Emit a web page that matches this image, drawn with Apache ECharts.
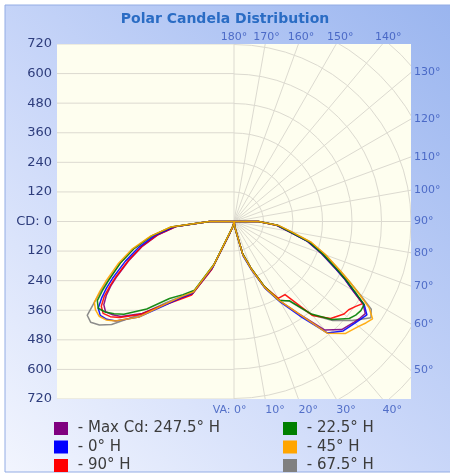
<!DOCTYPE html>
<html><head><meta charset="utf-8">
<script src="https://cdn.jsdelivr.net/npm/echarts@6/dist/echarts.min.js"></script>
<style>html,body{margin:0;padding:0;background:#fff;}#c{width:450px;height:474px;}</style>
</head><body><div id="c"></div>
<script>
// ---- data ----
const verticalAngles = [0,5,10,15,20,25,30,35,40,45,50,52.5,55,57.5,60,62.5,65,70,75,80,85,90,95,180];
const maxCdLeft  = [0,0,10,25,55,210,340,382,440,528,600,622,638,628,600,565,525,452,385,316,236,100,0,0];
const h0Left     = [0,0,10,25,50,205,335,378,448,548,628,652,664,655,622,585,545,470,400,328,245,100,0,0];
const h90Left    = [0,0,10,25,55,215,345,386,442,532,606,634,650,640,610,570,530,456,388,318,238,100,0,0];
const h22Left    = [0,0,10,25,45,190,322,362,408,502,585,615,640,655,642,602,562,492,420,342,256,100,0,0];
const h45Left    = [0,0,10,25,45,195,330,372,440,548,628,656,670,668,656,616,576,502,428,346,258,100,0,0];
const h67Left    = [0,0,10,25,45,195,330,370,430,530,650,690,712,708,656,610,566,492,420,340,255,100,0,0];
const maxCdRight = [0,5,30,140,205,295,372,455,575,620,636,645,652,622,556,508,458,378,308,222,172,100,0,0];
const h0Right    = [0,5,30,145,210,298,378,468,590,628,642,650,660,628,560,510,460,380,310,225,175,100,0,0];
const h90Right   = [0,5,30,135,200,290,360,362,498,556,584,588,602,620,560,512,462,382,312,226,176,100,0,0];
const h22Right   = [0,5,30,135,200,290,370,392,490,562,612,624,630,628,566,514,464,384,314,228,178,100,0,0];
const h45Right   = [0,5,30,140,205,295,372,455,592,642,662,676,688,652,588,530,480,398,325,236,182,100,0,0];
const h67Right   = [0,5,30,135,200,290,368,395,495,568,625,652,680,662,592,530,478,396,322,234,180,100,0,0];

const seriesNames  = ['- Max Cd: 247.5° H','- 0° H','- 90° H','- 22.5° H','- 45° H','- 67.5° H'];
const seriesColors = ['#800080','#0000ff','#ff0000','#008000','#ffa500','#808080'];
const leftData  = [maxCdLeft,h0Left,h90Left,h22Left,h45Left,h67Left];
const rightData = [maxCdRight,h0Right,h90Right,h22Right,h45Right,h67Right];

const cdTicks = [-720,-600,-480,-360,-240,-120,0,120,240,360,480,600,720];
const circleRadii = [120,240,360,480,600,720,840,960,1080];
const rayAngles = [10,20,30,40,50,60,70,80,90,100,110,120,130,140,150,160,170];
const topLabelAngles = [180,170,160,150,140];
const rightLabelAngles = [130,120,110,100,90,80,70,60,50];
const bottomLabelAngles = [0,10,20,30,40];

// ---- helpers ----
const rad = d => d*Math.PI/180;
function curve(left, right){
  const pts = [];
  for (let i = verticalAngles.length-1; i >= 0; i--) {
    const t = rad(verticalAngles[i]), r = left[i];
    pts.push([-r*Math.sin(t), -r*Math.cos(t)]);
  }
  for (let i = 0; i < verticalAngles.length; i++) {
    const t = rad(verticalAngles[i]), r = right[i];
    pts.push([r*Math.sin(t), -r*Math.cos(t)]);
  }
  return pts;
}
const GRID = '#dcdad0';
const LIM = 720;

const chart = echarts.init(document.getElementById('c'));
const drawOrder = [5,0,2,1,3,4];
const dataSeries = drawOrder.map(i => ({
  name: seriesNames[i], type: 'line', data: curve(leftData[i], rightData[i]),
  showSymbol: false, symbol: 'none', clip: true, z: 5,
  lineStyle: {color: seriesColors[i], width: 1.5, opacity: 0.9},
  itemStyle: {color: seriesColors[i]}
}));

const labelStyle = {color:'#3354bb', fontSize: 11, fontFamily: 'DejaVu Sans'};
function labelSeries(items, label){
  return {type:'scatter', symbolSize: 0, silent: true, clip: false, z: 6,
    data: items, label: Object.assign({show: true, formatter: '{b}'}, labelStyle, label)};
}
const legendBase = {orient:'vertical', top:421, height:70, width:200, padding:0, itemWidth:14, itemHeight:13, itemGap:3.5,
  icon:'rect', formatter: n => ' ' + n,
  textStyle:{fontSize:15, lineHeight:15, color:'#3c3c3c', fontFamily:'DejaVu Sans'}};

chart.setOption({
  animation: false,
  graphic: [{type:'rect', z: -100, shape:{x:5, y:5, width:446, height:467},
    style:{fill: new echarts.graphic.LinearGradient(0,1,1,0,[
      {offset:0,color:'#f2f5fe'},{offset:0.45,color:'#cbd8f9'},{offset:1,color:'#9ab5ef'}]),
      stroke:'#93ace4', lineWidth:1}}],
  title: {text:'Polar Candela Distribution', left: 'center', top: 7,
    textStyle:{color:'#2a6cc4', fontSize:14, fontWeight:'bold', fontFamily:'DejaVu Sans'}},
  grid: {left:57, right:39, top:44, bottom:75, show:true, backgroundColor:'#fefeef', borderWidth:0},
  xAxis: {type:'value', min:-LIM, max:LIM, show:false},
  yAxis: {type:'value', min:-LIM, max:LIM, interval:120,
    axisLine:{show:false}, axisTick:{show:false}, splitLine:{show:false},
    axisLabel:{margin:5, color:'#2e3d7c', fontSize:13, fontFamily:'DejaVu Sans',
      formatter: v => v === 0 ? 'CD: 0' : String(Math.abs(v))}},
  legend: [
    Object.assign({data: seriesNames.slice(0,3), left:54}, legendBase),
    Object.assign({data: seriesNames.slice(3), left:283}, legendBase)
  ],
  series: [
    {type:'custom', silent:true, clip:true, z:1, data: cdTicks.map(v => [v]),
     renderItem: (p, api) => {
       const a = api.coord([-LIM, api.value(0)]), b = api.coord([0, api.value(0)]);
       return {type:'line', shape:{x1:a[0], y1:a[1], x2:b[0], y2:b[1]}, style:{stroke:GRID, lineWidth:1}};
     }},
    {type:'custom', silent:true, clip:true, z:1, data: circleRadii.map(v => [v]),
     renderItem: (p, api) => {
       const c = api.coord([0,0]), e = api.coord([api.value(0),0]);
       return {type:'arc', shape:{cx:c[0], cy:c[1], r:e[0]-c[0], startAngle:-Math.PI/2, endAngle:Math.PI/2, clockwise:true},
         style:{stroke:GRID, fill:null, lineWidth:1}};
     }},
    {type:'custom', silent:true, clip:true, z:1, data: rayAngles.map(v => [v]),
     renderItem: (p, api) => {
       const t = rad(api.value(0)), c = api.coord([0,0]), e = api.coord([1100*Math.sin(t), -1100*Math.cos(t)]);
       return {type:'line', shape:{x1:c[0], y1:c[1], x2:e[0], y2:e[1]}, style:{stroke:GRID, lineWidth:1}};
     }},
    {type:'custom', silent:true, clip:true, z:1, data: [[0]],
     renderItem: (p, api) => {
       const a = api.coord([0, LIM]), b = api.coord([0, -LIM]);
       return {type:'line', shape:{x1:a[0], y1:a[1], x2:b[0], y2:b[1]}, style:{stroke:GRID, lineWidth:1}};
     }},
    labelSeries(topLabelAngles.map(a => ({name: a + '°', value:[748*Math.tan(rad(180-a)), 748]})), {position:'inside'}),
    labelSeries(rightLabelAngles.map(a => ({name: a + '°', value:[LIM, -LIM/Math.tan(rad(a))]})), {position:'right', distance:3}),
    labelSeries(bottomLabelAngles.map(a => ({name: a + '°', value:[LIM*Math.tan(rad(a)), -LIM]})), {position:'bottom', align:'left', distance:6}),
    labelSeries([{name:'VA: ', value:[0, -LIM]}], {position:'bottom', align:'right', distance:6}),
    ...dataSeries
  ]
});
</script></body></html>
